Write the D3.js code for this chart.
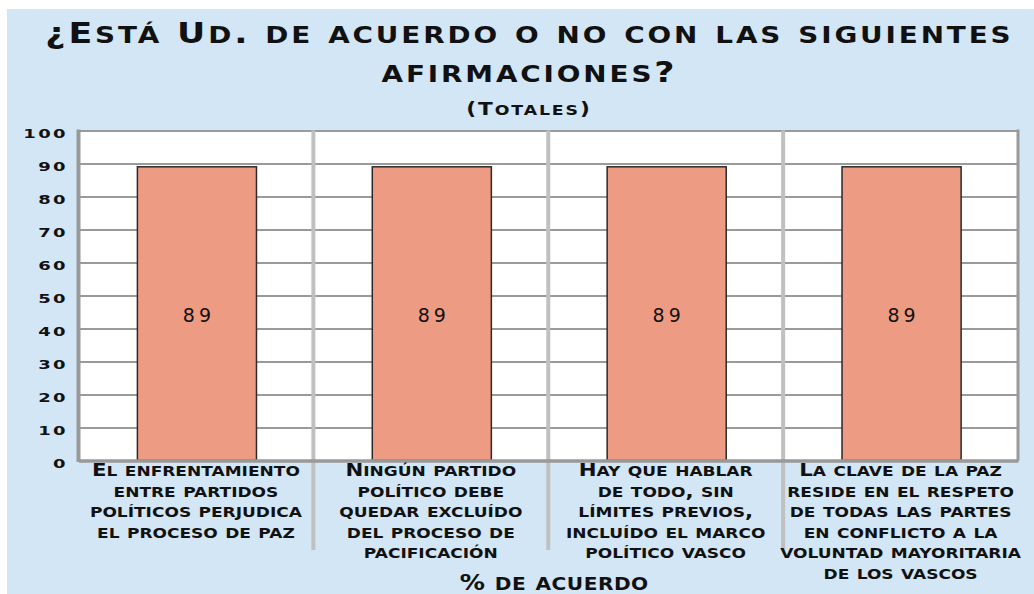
<!DOCTYPE html>
<html>
<head>
<meta charset="utf-8">
<script src="https://cdn.jsdelivr.net/npm/d3@7"></script>
<style>
  html, body { margin: 0; padding: 0; background: #fff; }
  svg { display: block; }
  .sc { text-transform: uppercase; }
</style>
</head>
<body>
<div id="chart"></div>
<script>
// Datos del gráfico
const titleLines = ['¿Está Ud. de acuerdo o no con las siguientes', 'afirmaciones?'];
const subtitle = '(Totales)';
const xTitle = '% de acuerdo';

const categories = [
  'El enfrentamiento entre partidos políticos perjudica el proceso de paz',
  'Ningún partido político debe quedar excluído del proceso de pacificación',
  'Hay que hablar de todo, sin límites previos, incluído el marco político vasco',
  'La clave de la paz reside en el respeto de todas las partes en conflicto a la voluntad mayoritaria de los vascos'
];
const categoryLines = [
  ['El enfrentamiento', 'entre partidos', 'políticos perjudica', 'el proceso de paz'],
  ['Ningún partido', 'político debe', 'quedar excluído', 'del proceso de', 'pacificación'],
  ['Hay que hablar', 'de todo, sin', 'límites previos,', 'incluído el marco', 'político vasco'],
  ['La clave de la paz', 'reside en el respeto', 'de todas las partes', 'en conflicto a la', 'voluntad mayoritaria', 'de los vascos']
];
const values = [89, 89, 89, 89];
const yTicks = [0, 10, 20, 30, 40, 50, 60, 70, 80, 90, 100];

const W = 1034, H = 594;
const FONT = '"DejaVu Sans", sans-serif';
const SC_RATIO = 0.8; // versalitas al estilo Copperplate

const svg = d3.select('#chart').append('svg')
  .attr('width', W)
  .attr('height', H);

// fondo azul
svg.append('rect')
  .attr('x', 7).attr('y', 9)
  .attr('width', W - 7).attr('height', H - 9)
  .attr('fill', '#D3E6F5');

// texto "ensanchado" con versalitas hechas a mano (tspans)
function wideText(parent, str, x, y, o) {
  const ls = o.ls || 0;
  const sx = o.sx || 1;
  const t = parent.append('text')
    .attr('transform', `translate(${x},${y}) scale(${sx},1)`)
    .attr('dx', o.anchor === 'end' ? 0 : ls / 2)
    .attr('text-anchor', o.anchor || 'middle')
    .style('font-family', FONT)
    .style('font-size', o.size + 'px')
    .style('font-weight', o.weight || 'bold')
    .style('letter-spacing', ls + 'px')
    .attr('fill', '#111');

  if (o.caps === false) {
    t.text(str);
    return t;
  }
  // separar en tramos minúscula / resto
  const runs = [];
  for (const ch of str) {
    const low = ch !== ch.toUpperCase();
    const last = runs[runs.length - 1];
    if (last && last.low === low) last.s += ch;
    else runs.push({ low, s: ch });
  }
  runs.forEach(r => {
    const ts = t.append('tspan').text(r.s);
    if (r.low) {
      ts.attr('class', 'sc').style('font-size', (o.size * SC_RATIO) + 'px');
    }
  });
  return t;
}

// Títulos
const titleX = 528;
wideText(svg, titleLines[0], titleX, 42.5, { size: 29, sx: 1.2, ls: 2.4 });
wideText(svg, titleLines[1], titleX, 82, { size: 29, sx: 1.2, ls: 2.4 });
wideText(svg, subtitle, titleX, 115, { size: 18, sx: 1.2, ls: 1.6 });

// Área del gráfico
const plot = { left: 78.5, right: 1018, top: 130.5, bottom: 460.5 };

const x = d3.scaleBand()
  .domain(categories)
  .range([plot.left, plot.right])
  .padding(0);

const y = d3.scaleLinear()
  .domain([0, 100])
  .range([plot.bottom, plot.top]);

svg.append('rect')
  .attr('x', plot.left).attr('y', plot.top)
  .attr('width', plot.right - plot.left)
  .attr('height', plot.bottom - plot.top)
  .attr('fill', '#fff');

// Eje Y con líneas de cuadrícula
const yAxis = d3.axisLeft(y)
  .tickValues(yTicks)
  .tickSize(-(plot.right - plot.left))
  .tickSizeOuter(0)
  .tickPadding(0)
  .tickFormat(d3.format('d'));

const gy = svg.append('g')
  .attr('transform', `translate(${plot.left},0)`)
  .call(yAxis);

gy.selectAll('.tick line')
  .attr('stroke', '#9a9a9a')
  .attr('stroke-width', 2);
gy.select('.domain').remove();
gy.selectAll('.tick text')
  .attr('x', null)
  .attr('dy', '0.35em')
  .attr('transform', 'translate(-10.5,2.5) scale(1.5,1)')
  .attr('fill', '#111')
  .style('font-family', FONT)
  .style('font-size', '12px')
  .style('font-weight', 'bold')
  .style('letter-spacing', '1.6px');

// separadores verticales entre categorías
svg.selectAll('.sep')
  .data(categories.slice(1))
  .enter()
  .append('line')
  .attr('class', 'sep')
  .attr('x1', d => x(d)).attr('x2', d => x(d))
  .attr('y1', plot.top).attr('y2', 550)
  .attr('stroke', '#c0c0c0')
  .attr('stroke-width', 4);

// borde derecho
svg.append('line')
  .attr('x1', plot.right).attr('x2', plot.right)
  .attr('y1', plot.top - 1).attr('y2', plot.bottom)
  .attr('stroke', '#9a9a9a')
  .attr('stroke-width', 3);

// Barras
const barW = x.bandwidth() * 0.507;
svg.selectAll('.bar')
  .data(values)
  .enter()
  .append('rect')
  .attr('class', 'bar')
  .attr('x', (d, i) => x(categories[i]) + x.bandwidth() / 2 - barW / 2 + 1)
  .attr('y', d => y(d))
  .attr('width', barW)
  .attr('height', d => y(0) - y(d))
  .attr('fill', '#EE9B83')
  .attr('stroke', '#2a2a2a')
  .attr('stroke-width', 1.5);

// eje izquierdo e inferior
svg.append('line')
  .attr('x1', plot.left).attr('x2', plot.left)
  .attr('y1', plot.top - 1).attr('y2', plot.bottom + 1.5)
  .attr('stroke', '#999')
  .attr('stroke-width', 4);

const xAxis = d3.axisBottom(x).tickSize(0).tickFormat('');
const gx = svg.append('g')
  .attr('transform', `translate(0,${plot.bottom})`)
  .call(xAxis);
gx.select('.domain')
  .attr('stroke', '#999')
  .attr('stroke-width', 3.5);

// Etiquetas de valor
values.forEach((v, i) => {
  const cx = x(categories[i]) + x.bandwidth() / 2 + 1;
  wideText(svg, String(v), cx, (y(v) + y(0)) / 2 + 8.5,
    { size: 19, weight: 'normal', ls: 4, caps: false });
});

// Etiquetas de categoría (varias líneas)
categoryLines.forEach((lines, i) => {
  const cx = x(categories[i]) + x.bandwidth() / 2;
  lines.forEach((ln, j) => {
    wideText(svg, ln, cx, 476 + j * 20.6, { size: 18.5, sx: 1.15, ls: 0 });
  });
});

// Título del eje X
wideText(svg, xTitle, 554, 590, { size: 21, sx: 1.2, ls: 0.4 });
</script>
</body>
</html>
